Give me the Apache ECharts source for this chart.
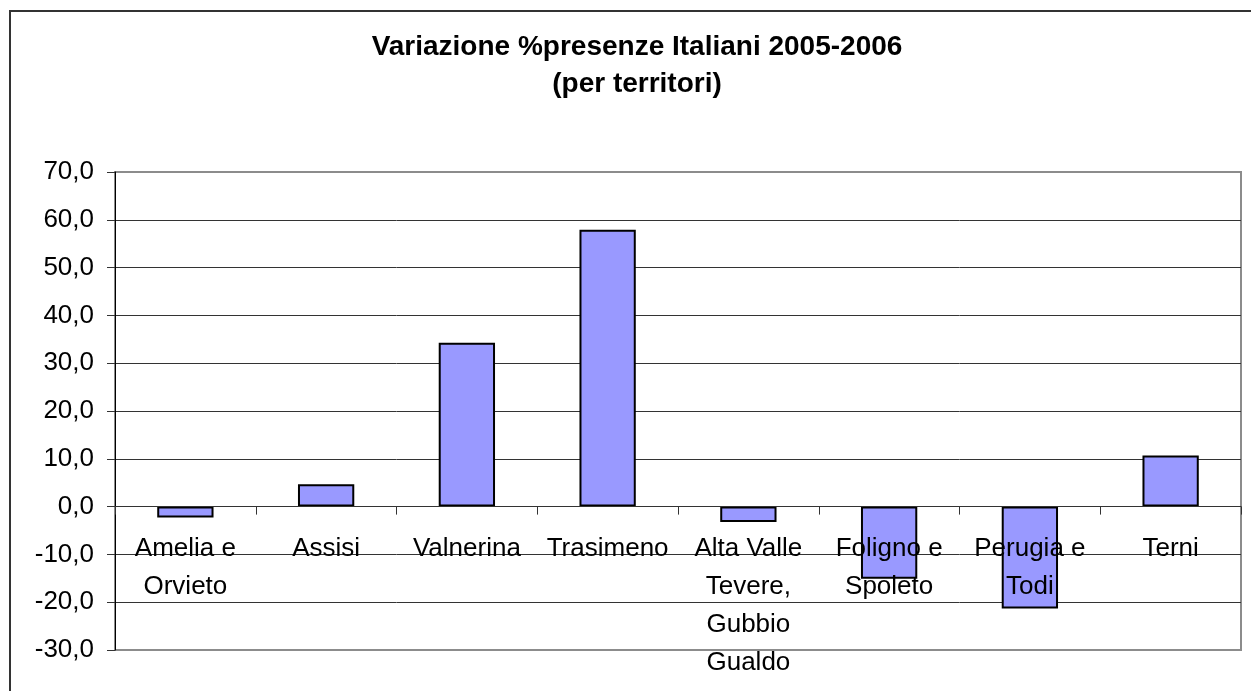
<!DOCTYPE html>
<html>
<head>
<meta charset="utf-8">
<script src="https://cdn.jsdelivr.net/npm/echarts@6/dist/echarts.min.js"></script>
<style>
html, body { margin: 0; padding: 0; background: #fff; }
#grafico { width: 1251px; height: 691px; }
</style>
</head>
<body>
<div id="grafico"></div>
<script>
// territori e variazione % presenze italiani 2005-2006
var territori = ['Amelia e\nOrvieto', 'Assisi', 'Valnerina', 'Trasimeno',
    'Alta Valle\nTevere,\nGubbio\nGualdo', 'Foligno e\nSpoleto', 'Perugia e\nTodi', 'Terni'];
var variazione = [-2.3, 4.7, 34.3, 57.9, -3.2, -15.1, -21.3, 10.7];
var yMin = -30, yMax = 70, yPasso = 10;

var font = 'Liberation Sans, Arial, sans-serif';

// colore delle linee: bordo grigio in alto e in basso
var coloriGriglia = [];
for (var v = yMin; v <= yMax; v += yPasso) {
    coloriGriglia.push(v === yMin || v === yMax ? '#8c8c8c' : '#333');
}

var dom = document.getElementById('grafico');
var myChart = echarts.init(dom);
var option = {
    backgroundColor: '#fff',
    animation: false,
    title: {
        text: 'Variazione %presenze Italiani 2005-2006\n(per territori)',
        left: 637,
        top: 29,
        padding: 0,
        textAlign: 'center',
        textStyle: {
            fontFamily: font,
            fontSize: 28,
            fontWeight: 'bold',
            color: '#000',
            lineHeight: 37
        }
    },
    graphic: [{
        type: 'rect',
        shape: { x: 10, y: 11, width: 1270, height: 720 },
        style: { fill: null, stroke: '#333', lineWidth: 2 },
        silent: true
    }],
    grid: {
        left: 115,
        right: 10,
        top: 172,
        bottom: 41,
        outerBoundsMode: 'none',
        containLabel: false,
        show: true,
        borderColor: '#8c8c8c',
        borderWidth: 2
    },
    xAxis: {
        type: 'category',
        data: territori,
        z: 5,
        axisLine: { onZero: true, lineStyle: { color: '#333', width: 1 } },
        axisTick: { show: true, length: 8, lineStyle: { color: '#333' } },
        axisLabel: {
            interval: 0,
            // le etichette restano sul bordo inferiore: le riporto sotto lo zero
            margin: -120,
            fontFamily: font,
            fontSize: 26,
            color: '#000',
            lineHeight: 38
        },
        splitLine: { show: false }
    },
    yAxis: {
        type: 'value',
        min: yMin,
        max: yMax,
        interval: yPasso,
        axisLine: { show: true, lineStyle: { color: '#000', width: 1 } },
        axisTick: { show: true, length: 8, lineStyle: { color: '#333' } },
        axisLabel: {
            margin: 21,
            fontFamily: font,
            fontSize: 26,
            color: '#000',
            formatter: function (val) {
                return val.toFixed(1).replace('.', ',');
            }
        },
        splitLine: { show: true, lineStyle: { color: coloriGriglia, width: 1 } }
    },
    series: [{
        type: 'bar',
        data: variazione,
        barWidth: '40%',
        itemStyle: {
            color: '#9999ff',
            borderColor: '#000',
            borderWidth: 2
        }
    }]
};
myChart.setOption(option, true);
</script>
</body>
</html>
